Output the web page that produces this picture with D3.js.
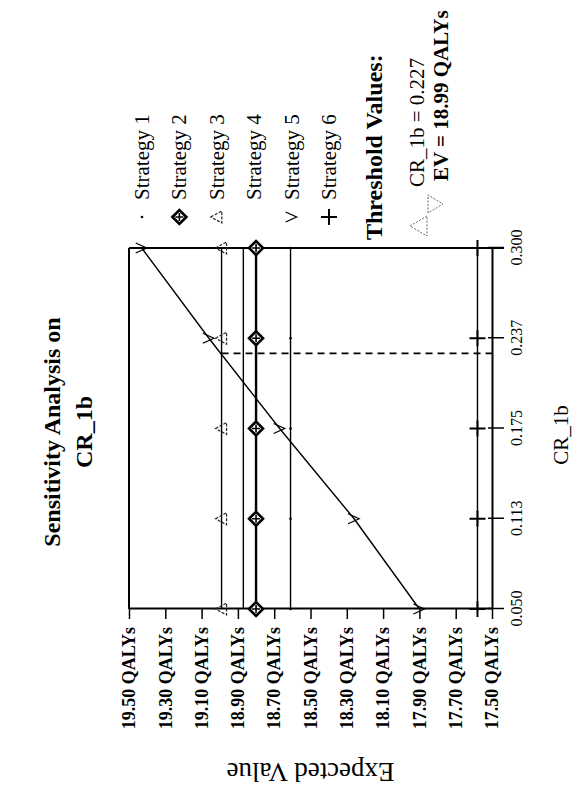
<!DOCTYPE html>
<html>
<head>
<meta charset="utf-8">
<script src="https://cdn.jsdelivr.net/npm/d3@7"></script>
<style>
  html, body { margin: 0; padding: 0; background: #fff; }
  svg { display: block; }
  text { font-family: "Liberation Serif", "Times New Roman", serif; fill: #000; }
</style>
</head>
<body>
<div id="chart"></div>
<script>
// CR_1b values at the tick positions
var xTicks = [0.05, 0.1125, 0.175, 0.2375, 0.3];
var xTickLabels = ["0.050", "0.113", "0.175", "0.237", "0.300"];
var yTicks = [19.5, 19.3, 19.1, 18.9, 18.7, 18.5, 18.3, 18.1, 17.9, 17.7, 17.5];

var strategyNames = ["Strategy 1", "Strategy 2", "Strategy 3", "Strategy 4", "Strategy 5", "Strategy 6"];
var strategyMarkers = ["dot", "diamond", "triangle", "none", "v", "plus"];

// expected value (QALYs) of each strategy at each x tick
var strategy1 = [18.61, 18.61, 18.61, 18.61, 18.61];
var strategy2 = [18.80, 18.80, 18.80, 18.80, 18.80];
var strategy3 = [18.99, 18.99, 18.99, 18.99, 18.99];
var strategy4 = [18.87, 18.87, 18.87, 18.87, 18.87];
var strategy5 = [17.90, 18.26, 18.67, 19.06, 19.43];
var strategy6 = [17.58, 17.58, 17.58, 17.58, 17.58];

var thresholdX = 0.227;
var thresholdEV = 18.99;

(function () {
  'use strict';

  var W = 575, H = 788;   // page size; the chart itself is drawn sideways
  var series = [strategy1, strategy2, strategy3, strategy4, strategy5, strategy6];

  var svg = d3.select("#chart").append("svg")
      .attr("width", W)
      .attr("height", H);

  // whole figure is turned a quarter turn counter-clockwise
  var g = svg.append("g")
      .attr("transform", "translate(0," + H + ") rotate(-90)");

  var x = d3.scaleLinear().domain([0.05, 0.3]).range([179, 540]);
  var y = d3.scaleLinear().domain([17.5, 19.5]).range([492, 129]);

  function drawMarker(sel, type) {
    if (type === "dot") {
      sel.append("circle").attr("r", 1.3).attr("fill", "#000");
    } else if (type === "diamond") {
      sel.append("path").attr("d", "M0,-7L7,0L0,7L-7,0Z")
        .attr("fill", "#fff").attr("stroke", "#000").attr("stroke-width", 2.6);
      sel.append("path").attr("d", "M-4,0H4M0,-4V4")
        .attr("stroke", "#000").attr("stroke-width", 1.6);
    } else if (type === "triangle") {
      sel.append("path").attr("d", "M0,-6L6,5H-6Z")
        .attr("fill", "none").attr("stroke", "#222").attr("stroke-width", 1.2)
        .attr("stroke-dasharray", "3,1.5");
    } else if (type === "v") {
      sel.append("path").attr("d", "M-5,-6L0,5L5,-6")
        .attr("fill", "none").attr("stroke", "#000").attr("stroke-width", 1.3);
    } else if (type === "plus") {
      sel.append("path").attr("d", "M-8,0H8M0,-8V8")
        .attr("stroke", "#000").attr("stroke-width", 2);
    }
  }

  // title
  g.append("text")
    .attr("x", 356).attr("y", 60)
    .attr("text-anchor", "middle")
    .style("font-size", "24px").style("font-weight", "bold")
    .text("Sensitivity Analysis on");
  g.append("text")
    .attr("x", 356).attr("y", 92)
    .attr("text-anchor", "middle")
    .style("font-size", "24px").style("font-weight", "bold")
    .text("CR_1b");

  // frame: top and right edges
  g.append("line")
    .attr("x1", x(0.05)).attr("x2", x(0.3))
    .attr("y1", y(19.5)).attr("y2", y(19.5))
    .attr("stroke", "#000").attr("stroke-width", 2);
  g.append("line")
    .attr("x1", x(0.3)).attr("x2", x(0.3))
    .attr("y1", y(19.5)).attr("y2", y(17.5) + 12)
    .attr("stroke", "#000").attr("stroke-width", 2);

  // axes
  var yAxis = g.append("g")
    .attr("transform", "translate(" + x(0.05) + ",0)")
    .call(d3.axisLeft(y).tickValues(yTicks).tickSize(10).tickSizeOuter(0).tickPadding(8)
      .tickFormat(function (d) { return d.toFixed(2) + " QALYs"; }));
  yAxis.selectAll("text")
    .style("font-family", "Liberation Serif, serif")
    .style("font-size", "18px").style("font-weight", "bold");

  var xAxis = g.append("g")
    .attr("transform", "translate(0," + y(17.5) + ")")
    .call(d3.axisBottom(x).tickValues(xTicks).tickSize(12).tickSizeOuter(0).tickPadding(7)
      .tickFormat(function (d, i) { return xTickLabels[i]; }));
  xAxis.selectAll("text")
    .style("font-family", "Liberation Serif, serif")
    .style("font-size", "16px");
  xAxis.selectAll(".tick").append("line").attr("y2", -4).attr("stroke", "#000");

  g.selectAll(".domain").attr("stroke-width", 2);
  g.selectAll(".tick line").attr("stroke-width", 1.5);

  // strategy lines
  var line = d3.line()
    .x(function (d, i) { return x(xTicks[i]); })
    .y(function (d) { return y(d); });

  series.forEach(function (vals, k) {
    g.append("path")
      .datum(vals)
      .attr("d", line)
      .attr("fill", "none")
      .attr("stroke", "#000")
      .attr("stroke-width", k === 1 ? 2.4 : 1.4);
  });

  // threshold
  g.append("line")
    .attr("x1", x(thresholdX)).attr("x2", x(thresholdX))
    .attr("y1", y(thresholdEV)).attr("y2", y(17.5))
    .attr("stroke", "#000").attr("stroke-width", 1.6)
    .attr("stroke-dasharray", "7,5");

  // markers
  series.forEach(function (vals, k) {
    vals.forEach(function (v, i) {
      var m = g.append("g").attr("transform", "translate(" + x(xTicks[i]) + "," + y(v) + ")");
      drawMarker(m, strategyMarkers[k]);
    });
  });

  // axis titles
  g.append("text")
    .attr("x", 353).attr("y", 568)
    .attr("text-anchor", "middle")
    .style("font-size", "21px")
    .text("CR_1b");
  g.append("text")
    .attr("transform", "translate(25," + ((y(17.5) + y(19.5)) / 2) + ") rotate(-90)")
    .attr("text-anchor", "middle")
    .style("font-size", "27px")
    .text("Expected Value");

  // legend
  var legend = g.append("g");
  strategyNames.forEach(function (name, i) {
    var base = 149 + i * 37.4;
    var m = legend.append("g").attr("transform", "translate(571," + (base - 7) + ")");
    drawMarker(m, strategyMarkers[i]);
    legend.append("text")
      .attr("x", 588).attr("y", base)
      .style("font-size", "21px")
      .text(name);
  });

  legend.append("text")
    .attr("x", 548).attr("y", 382)
    .style("font-size", "24px").style("font-weight", "bold")
    .text("Threshold Values:");

  legend.append("path")
    .attr("d", "M562,410L572,427H552Z")
    .attr("fill", "none").attr("stroke", "#666").attr("stroke-dasharray", "2,1.5");
  legend.append("path")
    .attr("d", "M575,428H593L584,443Z")
    .attr("fill", "none").attr("stroke", "#666").attr("stroke-dasharray", "2,1.5");

  legend.append("text")
    .attr("x", 601).attr("y", 424)
    .style("font-size", "21px")
    .text("CR_1b = " + thresholdX.toFixed(3));
  legend.append("text")
    .attr("x", 607).attr("y", 448)
    .style("font-size", "21px").style("font-weight", "bold")
    .text("EV = " + thresholdEV.toFixed(2) + " QALYs");
}());
</script>
</body>
</html>
